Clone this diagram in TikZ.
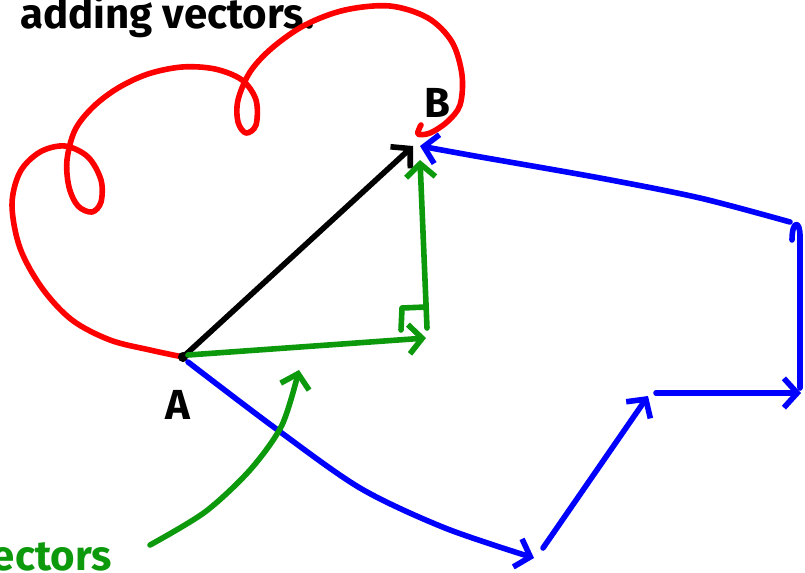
\documentclass[tikz,border=0pt]{standalone}
\usepackage{fontspec}
\setmainfont{Fira Sans}
\usepackage{tikz}
\usetikzlibrary{arrows.meta, positioning}
\definecolor{penred}{HTML}{FF0000}
\definecolor{pengreen}{HTML}{0C990C}
\definecolor{penblue}{HTML}{0000FF}

\begin{document}
\begin{tikzpicture}[
  x=0.75pt, y=-0.75pt,
  ink/.style={line width=4.2pt, line cap=round, line join=round},
  vec/.style={ink, -{Straight Barb[length=10pt, width=22pt]}},
  hand/.style={font=\fontsize{31.5}{36}\selectfont\bfseries, inner sep=0pt},
]
  \useasboundingbox (0,0) rectangle (805,572);
  \clip (0,0) rectangle (805,572);

  % Points
  \coordinate (A) at (183,357);
  \coordinate (B) at (413,146);
  \coordinate (Bg) at (420,160);
  \coordinate (Bb) at (420,146);
  \coordinate (C) at (426,338);
  \coordinate (D) at (534,558);
  \coordinate (E) at (648,396);
  \coordinate (F) at (801,393);
  \coordinate (G) at (790,222);
  \coordinate (n1) at (150,545);
  \coordinate (n2) at (299,370);

  % Texts
  \node[hand, anchor=base west] (title) at (20,28) {adding vectors.};
  \node[hand, anchor=base east, text=pengreen] (note) at (112,570) {vectors};
  \node[hand] (labA) at (178,405) {A};
  \node[hand] (labB) at (437,103) {B};

  % Red path
  \draw[ink, penred] plot[smooth, tension=0.55] coordinates {
    (A) (150,350) (110,340) (72,320) (42,288) (20,248) (12,205) (20,172)
    (40,152) (65,146) (88,157) (101,180) (101,202) (92,212) (78,206)
    (69,187) (67,160) (75,130) (93,107) (118,88) (148,74) (182,67)
    (215,69) (242,80) (256,100) (256,125) (246,133) (238,122) (238,100)
    (250,72) (272,48) (305,25) (345,10) (390,6) (428,18) (452,42)
    (462,75) (460,105) (447,122) (430,133) (418,134) (421,125)};

  % Black vector
  \draw[vec] (A) -- (B);
  \fill (A) circle[radius=3.8pt];

  % Green vectors
  \draw[vec, pengreen] ([shift={(5,-2)}]A) -- (C);
  \draw[vec, pengreen] ([shift={(1,-10)}]C) -- (Bg);
  \draw[ink, pengreen] (401,330) -- (402,308) -- (426,307);

  % Blue vectors
  \draw[vec, penblue] plot[smooth] coordinates {
    ([shift={(5,5)}]A) (275,428) (360,488) (445,528) (D)};
  \draw[vec, penblue] ([shift={(9,-10)}]D) -- (E);
  \draw[vec, penblue] ([shift={(8,-3)}]E) -- (F);
  \draw[ink, penblue] ([shift={(-1,-5)}]F) -- (800,236)
    .. controls (800,220) and (792,220) .. (792,240);
  \draw[vec, penblue] plot[smooth] coordinates {
    (G) (700,198) (600,178) (475,156) (Bb)};

  % Note arrow
  \draw[vec, pengreen] plot[smooth] coordinates {
    (n1) (205,512) (250,470) (282,425) (n2)};
\end{tikzpicture}
\end{document}
